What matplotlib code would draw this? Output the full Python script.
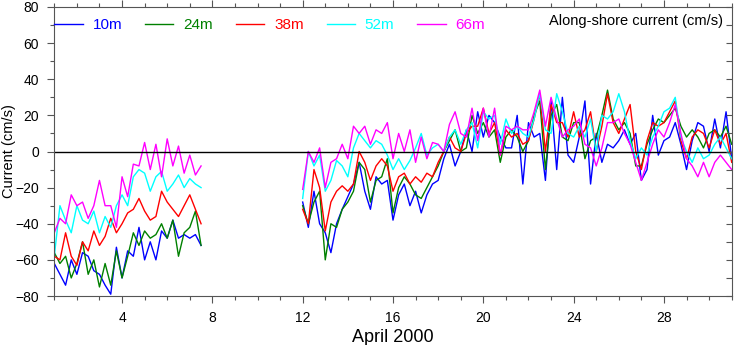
import numpy as np
import matplotlib.pyplot as plt
from matplotlib.ticker import MultipleLocator

plt.rcParams['font.family'] = ['Liberation Sans', 'DejaVu Sans']

# 6-hourly samples, day of April 2000 (gap between the two deployments)
days_a = np.arange(1.0, 7.51, 0.25)
days_b = np.arange(12.0, 31.01, 0.25)

depths = ['10m', '24m', '38m', '52m', '66m']
colors = ['#0000ff', '#008000', '#ff0000', '#00ffff', '#ff00ff']

# along-shore current (cm/s)
u10_a = [-62, -68, -74, -60, -68, -56, -58, -66, -68, -74, -79, -53, -70, -55,
         -58, -42, -60, -50, -60, -44, -48, -38, -48, -46, -48, -46, -52]
u10_b = [-28, -42, -22, -40, -45, -56, -40, -32, -25, -18, -6, -22, -32, -14,
         -18, -16, -38, -24, -18, -30, -22, -34, -24, -18, -16, -4, 4, -8, 0,
         12, 0, 22, 8, 20, 16, 8, 2, 2, 20, -18, 16, 8, 10, -16, 28, -10, 30,
         -2, -6, 8, 28, -18,
         10, -6, 4, 2, 6, 12, 4, 10, -16, -10, 20, -2, 6, 8, 16, 4, -10, 6,
         16, 14, 0, 18, 2, 22, -4]

u24_a = [-56, -62, -58, -70, -62, -50, -68, -60, -75, -62, -74, -55, -70, -58,
         -45, -52, -44, -48, -46, -40, -48, -38, -58, -45, -42, -33, -52]
u24_b = [-30, -40, -28, -22, -60, -40, -42, -32, -28, -22, -6, -10, -28, -16,
         -14, -4, -34, -20, -14, -18, -24, -26, -20, -14, -8, 0, 6, 12, 0,
         2, 20, 10, 16, 8, 12, -6, 8, 12, 8, 0, 6, 20, 28, -10, 20, 26, 8, 6,
         16, 16, -4, 6,
         8, 20, 34, 18, 12, 16, 10, -8, -8, 4, 12, 18, 16, 20, 24, 14, 8, 12,
         8, 2, 10, 12, 8, 14, 4]

u38_a = [-58, -60, -45, -58, -63, -50, -55, -44, -52, -47, -37, -45, -40, -34,
         -32, -26, -33, -38, -36, -22, -28, -32, -36, -30, -24, -32, -40]
u38_b = [-32, -40, -10, -20, -44, -28, -22, -19, -22, -18, 0, -6, -16, -8,
         -4, -8, -22, -14, -12, -18, -14, -17, -12, -14, -6, 0, 8, 2, 0,
         10, 14, 14, 24, 10, 16, -2, 12, 8, 10, 4, 6, 18, 32, 0, 26, 16, 16,
         8, 22, 8, 12, 22,
         0, 14, 32, 16, 10, 18, 26, 0, -10, 6, 16, 14, 16, 22, 28, 6, -4, 8,
         12, 10, 2, 12, 4, 10, -6]

u52_a = [-58, -30, -38, -45, -30, -38, -40, -33, -45, -36, -42, -30, -24, -30,
         -14, -10, -12, -22, -14, -11, -22, -18, -13, -20, -15, -18, -20]
u52_b = [-26, 0, -8, -2, -22, -16, -5, -8, -14, 2, 10, 6, 2, 6,
         4, -2, -10, -4, -10, -5, 2, 10, -2, 2, 4, 0, 8, 12, 4,
         12, 16, 2, 22, 18, 20, 4, 18, 10, 14, 10, 8, 18, 32, 12, 10, 32, 22,
         10, 8, 14, 8, 18,
         0, 20, 18, 22, 32, 22, 6, -4, 2, -2, 8, 14, 22, 24, 30, 8, 0, -6,
         2, -4, -2, 4, 8, 2, -4]

u66_a = [-45, -37, -40, -24, -30, -28, -37, -30, -16, -30, -30, -42, -14, -25,
         -7, -8, 5, -10, 4, -14, 7, -8, 3, -12, -2, -13, -8]
u66_b = [-21, 0, -6, 2, -20, -6, -4, 4, -4, 14, 10, 14, 4, 12,
         10, 16, -4, 10, 0, 12, -6, 8, -4, 5, 4, 0, 15, 22, 10,
         8, 24, 6, 24, 8, 24, -2, 14, 12, 14, 12, 12, 22, 34, 14, 30, 18, 8,
         12, 14, 18, 4, 2,
         -8, 2, 16, 16, 18, 10, 4, -6, -16, -6, 4, 12, 8, 16, 26, 10, -4, -8,
         -14, -6, -14, -6, -2, -6, -10]

first = [u10_a, u24_a, u38_a, u52_a, u66_a]
second = [u10_b, u24_b, u38_b, u52_b, u66_b]

fig = plt.figure(figsize=(7.39, 3.45), dpi=100)
ax = fig.add_axes([54.3 / 739, 49 / 345, 677.4 / 739, 289 / 345])

for name, col, ua, ub in zip(depths, colors, first, second):
    ax.plot(days_a, ua, color=col, lw=1.0, label=name)
    ax.plot(days_b, ub, color=col, lw=1.0)

ax.axhline(0, color='black', lw=1.0)

ax.set_xlim(1, 31)
ax.set_ylim(-80, 80)
ax.xaxis.set_major_locator(MultipleLocator(4))
ax.xaxis.set_minor_locator(MultipleLocator(1))
ax.yaxis.set_major_locator(MultipleLocator(20))
ax.yaxis.set_minor_locator(MultipleLocator(10))
ax.tick_params(which='both', direction='out', top=True, right=False,
               labelsize=10, width=0.8, color='#555555', pad=6)
ax.tick_params(which='major', length=5)
ax.tick_params(which='minor', length=3)
for sp in ax.spines.values():
    sp.set_color('#555555')
    sp.set_linewidth(0.8)

# right side: inward ticks every 10, no labels
ax2 = ax.twinx()
ax2.set_ylim(-80, 80)
ax2.yaxis.set_major_locator(MultipleLocator(10))
ax2.tick_params(direction='in', length=4, width=0.8, color='#555555',
                labelright=False)
for sp in ax2.spines.values():
    sp.set_visible(False)

ax.set_xlabel('April 2000', fontsize=13, labelpad=3)
fig.text(9 / 739, 0.5 + (345 - 151.5 - 172.5) / 345, 'Current (cm/s)',
         rotation=90, ha='center', va='center', fontsize=10.5)

ax.legend(ncol=5, loc='center left', bbox_to_anchor=(0, 1 - 18 / 289),
          frameon=False, handlelength=1.85, handletextpad=0.65,
          columnspacing=1.5, borderaxespad=0, borderpad=0,
          labelcolor='linecolor', fontsize=11)
ax.text(1 - 9 / 677.4, 1 - 14 / 289, 'Along-shore current (cm/s)',
        transform=ax.transAxes, ha='right', va='center', fontsize=10.5)

fig.savefig('out.png', dpi=100)
